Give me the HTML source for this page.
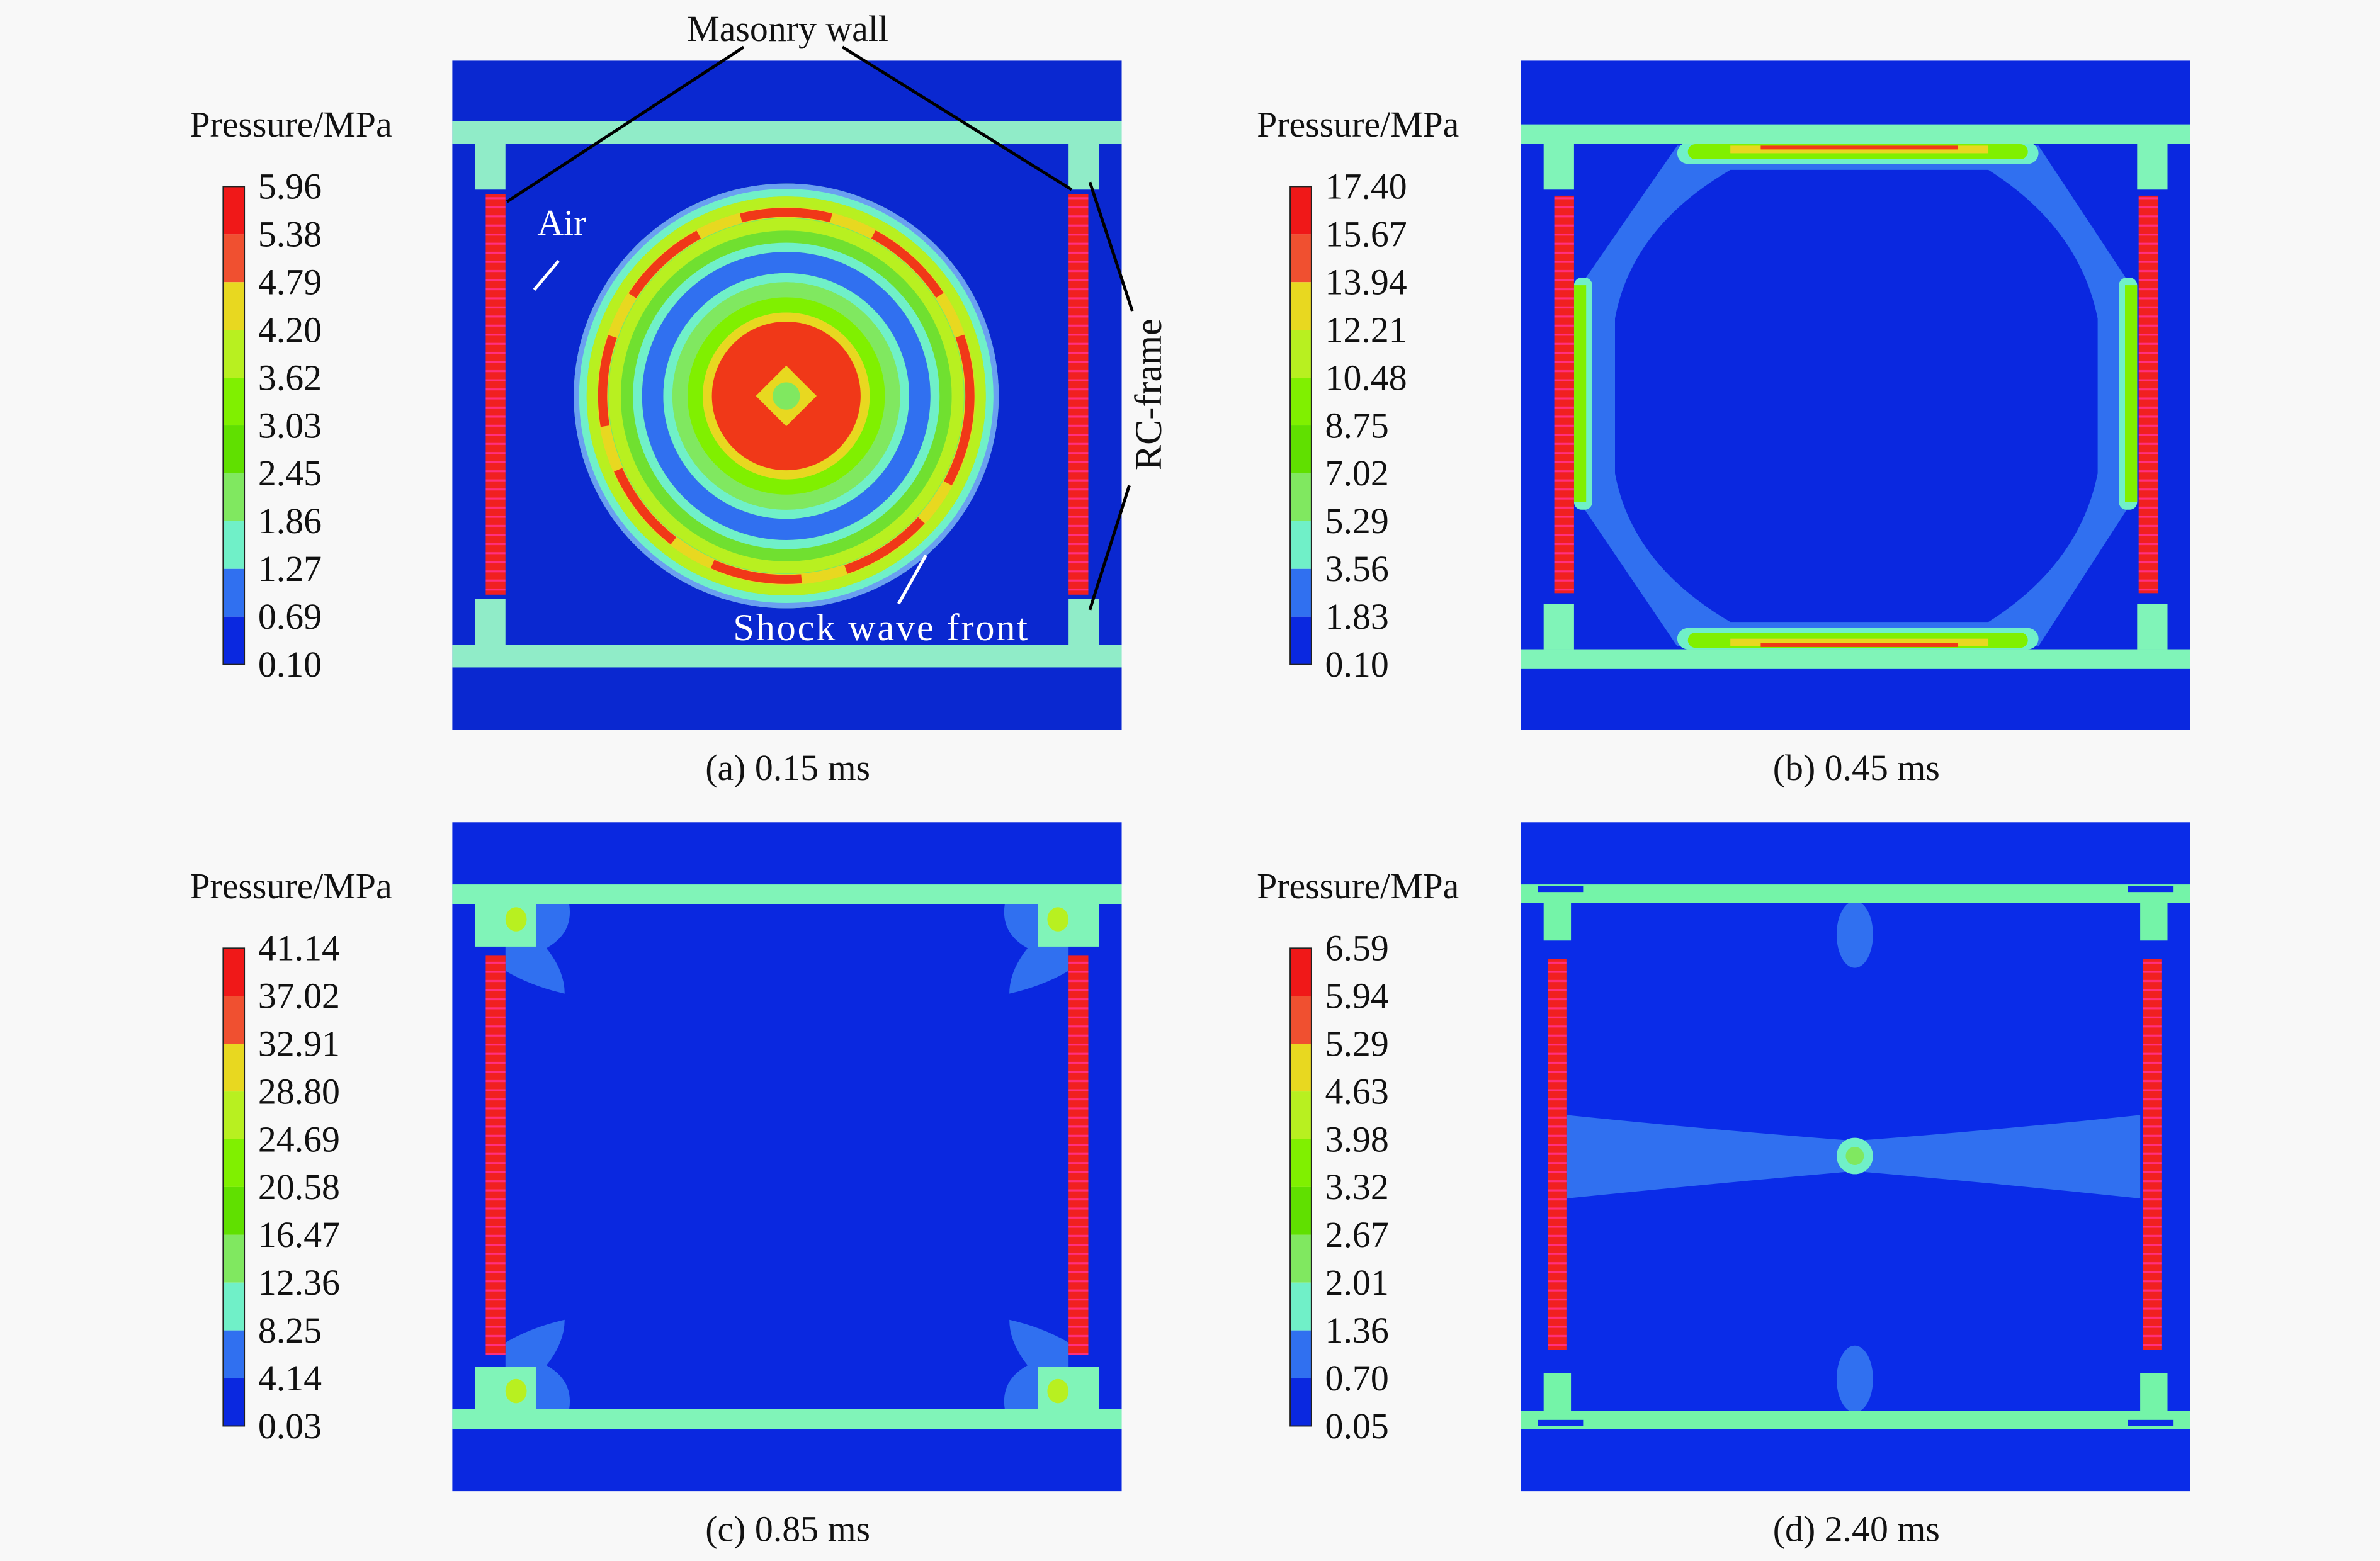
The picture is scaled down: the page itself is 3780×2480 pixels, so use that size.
<!DOCTYPE html>
<html><head><meta charset="utf-8"><style>
html,body{margin:0;padding:0;background:#f8f8f8;}
svg{display:block;}
svg text{font-family:"Liberation Serif","Times New Roman","DejaVu Serif",serif;fill:#111;}
</style></head><body>
<svg width="3780" height="2480" viewBox="0 0 1568 1029" preserveAspectRatio="none" xmlns="http://www.w3.org/2000/svg" font-family="Liberation Serif, serif">
<rect width="1568" height="1029" fill="#f8f8f8"/>
<defs>
<g id="cb">
  <rect x="0" y="0" width="14" height="31.5" fill="#f01818"/>
  <rect x="0" y="31.5" width="14" height="31.5" fill="#f05030"/>
  <rect x="0" y="63" width="14" height="31.5" fill="#e8d820"/>
  <rect x="0" y="94.5" width="14" height="31.5" fill="#b8f020"/>
  <rect x="0" y="126" width="14" height="31.5" fill="#80f000"/>
  <rect x="0" y="157.5" width="14" height="31.5" fill="#60e000"/>
  <rect x="0" y="189" width="14" height="31.5" fill="#80e860"/>
  <rect x="0" y="220.5" width="14" height="31.5" fill="#70f0c8"/>
  <rect x="0" y="252" width="14" height="31.5" fill="#3070f0"/>
  <rect x="0" y="283.5" width="14" height="31.5" fill="#0a28e0"/>
  <rect x="0" y="0" width="14" height="315" fill="none" stroke="#222" stroke-width="0.8"/>
</g>
<pattern id="brick" width="14" height="6" patternUnits="userSpaceOnUse">
  <rect width="14" height="6" fill="#f02020"/>
  <rect y="4" width="14" height="1.3" fill="#ff3080"/>
</pattern>
</defs>

<g font-size="24">
  <text x="125" y="90">Pressure/MPa</text>
  <use href="#cb" x="147" y="123"/>
  <g transform="translate(170,131)">
    <text y="0">5.96</text><text y="31.5">5.38</text><text y="63">4.79</text><text y="94.5">4.20</text><text y="126">3.62</text><text y="157.5">3.03</text><text y="189">2.45</text><text y="220.5">1.86</text><text y="252">1.27</text><text y="283.5">0.69</text><text y="315">0.10</text>
  </g>
  <text x="828" y="90">Pressure/MPa</text>
  <use href="#cb" x="850" y="123"/>
  <g transform="translate(873,131)">
    <text y="0">17.40</text><text y="31.5">15.67</text><text y="63">13.94</text><text y="94.5">12.21</text><text y="126">10.48</text><text y="157.5">8.75</text><text y="189">7.02</text><text y="220.5">5.29</text><text y="252">3.56</text><text y="283.5">1.83</text><text y="315">0.10</text>
  </g>
  <text x="125" y="592">Pressure/MPa</text>
  <use href="#cb" x="147" y="625"/>
  <g transform="translate(170,633)">
    <text y="0">41.14</text><text y="31.5">37.02</text><text y="63">32.91</text><text y="94.5">28.80</text><text y="126">24.69</text><text y="157.5">20.58</text><text y="189">16.47</text><text y="220.5">12.36</text><text y="252">8.25</text><text y="283.5">4.14</text><text y="315">0.03</text>
  </g>
  <text x="828" y="592">Pressure/MPa</text>
  <use href="#cb" x="850" y="625"/>
  <g transform="translate(873,633)">
    <text y="0">6.59</text><text y="31.5">5.94</text><text y="63">5.29</text><text y="94.5">4.63</text><text y="126">3.98</text><text y="157.5">3.32</text><text y="189">2.67</text><text y="220.5">2.01</text><text y="252">1.36</text><text y="283.5">0.70</text><text y="315">0.05</text>
  </g>
  <text x="519" y="514" text-anchor="middle">(a) 0.15 ms</text>
  <text x="1223" y="514" text-anchor="middle">(b) 0.45 ms</text>
  <text x="519" y="1016" text-anchor="middle">(c) 0.85 ms</text>
  <text x="1223" y="1016" text-anchor="middle">(d) 2.40 ms</text>
</g>

<!-- Panel a -->
<g>
  <rect x="298" y="40" width="441" height="441" fill="#0a28d0"/>
  <circle cx="518" cy="261" r="140" fill="#80e860"/>
  <g fill="none">
    <circle cx="518" cy="261" r="138" stroke="#6aa0f0" stroke-width="4"/>
    <circle cx="518" cy="261" r="134" stroke="#70f0c8" stroke-width="5"/>
    <circle cx="518" cy="261" r="128" stroke="#b8f020" stroke-width="7"/>
    <circle cx="518" cy="261" r="121" stroke="#e8d820" stroke-width="7"/>
    <circle cx="518" cy="261" r="121" stroke="#f03818" stroke-width="6" stroke-dasharray="60 30"/>
    <circle cx="518" cy="261" r="113" stroke="#b8f020" stroke-width="8"/>
    <circle cx="518" cy="261" r="105" stroke="#70e030" stroke-width="8"/>
    <circle cx="518" cy="261" r="98" stroke="#70f0c8" stroke-width="6"/>
    <circle cx="518" cy="261" r="88" stroke="#3070f0" stroke-width="14"/>
    <circle cx="518" cy="261" r="78" stroke="#70f0c8" stroke-width="6"/>
    <circle cx="518" cy="261" r="70" stroke="#80e860" stroke-width="10"/>
    <circle cx="518" cy="261" r="60" stroke="#80f000" stroke-width="10"/>
  </g>
  <circle cx="518" cy="261" r="55" fill="#e8d820"/>
  <circle cx="518" cy="261" r="49" fill="#f03818"/>
  <rect x="476" y="219" width="84" height="84" rx="26" fill="#f03818"/>
  <path d="M518 241 L538 261 L518 281 L498 261Z" fill="#e8d820"/>
  <circle cx="518" cy="261" r="9" fill="#80e860"/>
  <rect x="298" y="80" width="441" height="15" fill="#90ecc8"/>
  <rect x="298" y="425" width="441" height="15" fill="#90ecc8"/>
  <rect x="313" y="95" width="20" height="30" fill="#90ecc8"/>
  <rect x="704" y="95" width="20" height="30" fill="#90ecc8"/>
  <rect x="313" y="395" width="20" height="30" fill="#90ecc8"/>
  <rect x="704" y="395" width="20" height="30" fill="#90ecc8"/>
  <rect x="320" y="128" width="13" height="264" fill="url(#brick)"/>
  <rect x="704" y="128" width="13" height="264" fill="url(#brick)"/>
  <text x="519" y="27" font-size="24" text-anchor="middle">Masonry wall</text>
  <line x1="490" y1="31" x2="334" y2="133" stroke="#000" stroke-width="2"/>
  <line x1="555" y1="31" x2="706" y2="125" stroke="#000" stroke-width="2"/>
  <text x="354" y="155" font-size="24" style="fill:#fff">Air</text>
  <line x1="368" y1="172" x2="352" y2="191" stroke="#fff" stroke-width="2"/>
  <text x="483" y="422" font-size="25" textLength="194" style="fill:#fff">Shock wave front</text>
  <line x1="592" y1="398" x2="610" y2="366" stroke="#fff" stroke-width="2"/>
  <text transform="translate(765,260) rotate(-90)" font-size="25" text-anchor="middle">RC-frame</text>
  <line x1="746" y1="205" x2="718" y2="120" stroke="#000" stroke-width="2"/>
  <line x1="744" y1="320" x2="718" y2="402" stroke="#000" stroke-width="2"/>
</g>

<!-- Panel b -->
<g>
  <rect x="1002" y="40" width="441" height="441" fill="#0a28e0"/>
  <path d="M1105 96 L1343 96 L1405 190 L1405 330 L1343 426 L1105 426 L1040 330 L1040 190Z" fill="#3070f0"/>
  <path d="M1140 112 L1310 112 Q1370 150 1382 210 L1382 312 Q1370 372 1310 410 L1140 410 Q1075 372 1064 312 L1064 210 Q1075 150 1140 112Z" fill="#0a28e0"/>
  <rect x="1105" y="94" width="238" height="14" rx="7" fill="#70f0c8"/>
  <rect x="1112" y="95" width="224" height="10" rx="5" fill="#80f000"/>
  <rect x="1140" y="96" width="170" height="5" fill="#e8d820"/>
  <rect x="1160" y="96" width="130" height="2.5" fill="#f03818"/>
  <rect x="1105" y="414" width="238" height="14" rx="7" fill="#70f0c8"/>
  <rect x="1112" y="417" width="224" height="10" rx="5" fill="#80f000"/>
  <rect x="1140" y="421" width="170" height="5" fill="#e8d820"/>
  <rect x="1160" y="424" width="130" height="2.5" fill="#f03818"/>
  <rect x="1037" y="183" width="12" height="153" rx="5" fill="#70f0c8"/>
  <rect x="1037" y="188" width="8" height="143" fill="#80f000"/>
  <rect x="1396" y="183" width="12" height="153" rx="5" fill="#70f0c8"/>
  <rect x="1400" y="188" width="8" height="143" fill="#80f000"/>
  <rect x="1002" y="82" width="441" height="13" fill="#80f4b8"/>
  <rect x="1002" y="428" width="441" height="13" fill="#80f4b8"/>
  <rect x="1017" y="95" width="20" height="30" fill="#80f4b8"/>
  <rect x="1408" y="95" width="20" height="30" fill="#80f4b8"/>
  <rect x="1017" y="398" width="20" height="30" fill="#80f4b8"/>
  <rect x="1408" y="398" width="20" height="30" fill="#80f4b8"/>
  <rect x="1024" y="129" width="13" height="262" fill="url(#brick)"/>
  <rect x="1409" y="129" width="13" height="262" fill="url(#brick)"/>
</g>

<!-- Panel c -->
<g>
  <rect x="298" y="542" width="441" height="441" fill="#0a28e0"/>
  <path d="M333 596 L375 596 Q378 615 360 625 Q372 640 372 655 Q350 650 333 640Z" fill="#3070f0"/>
  <path d="M704 596 L662 596 Q659 615 677 625 Q665 640 665 655 Q687 650 704 640Z" fill="#3070f0"/>
  <path d="M333 929 L375 929 Q378 910 360 900 Q372 885 372 870 Q350 875 333 885Z" fill="#3070f0"/>
  <path d="M704 929 L662 929 Q659 910 677 900 Q665 885 665 870 Q687 875 704 885Z" fill="#3070f0"/>
  <rect x="298" y="583" width="441" height="13" fill="#80f4b8"/>
  <rect x="298" y="929" width="441" height="13" fill="#80f4b8"/>
  <rect x="313" y="596" width="40" height="28" fill="#80f4b8"/>
  <rect x="684" y="596" width="40" height="28" fill="#80f4b8"/>
  <rect x="313" y="901" width="40" height="28" fill="#80f4b8"/>
  <rect x="684" y="901" width="40" height="28" fill="#80f4b8"/>
  <ellipse cx="340" cy="606" rx="7" ry="8" fill="#b8f020"/>
  <ellipse cx="697" cy="606" rx="7" ry="8" fill="#b8f020"/>
  <ellipse cx="340" cy="917" rx="7" ry="8" fill="#b8f020"/>
  <ellipse cx="697" cy="917" rx="7" ry="8" fill="#b8f020"/>
  <rect x="320" y="630" width="13" height="263" fill="url(#brick)"/>
  <rect x="704" y="630" width="13" height="263" fill="url(#brick)"/>
</g>

<!-- Panel d -->
<g>
  <rect x="1002" y="542" width="441" height="441" fill="#0a2ce8"/>
  <path d="M1032 735 Q1130 745 1222 752 Q1315 745 1410 735 L1410 790 Q1315 780 1222 772 Q1130 780 1032 790Z" fill="#3070f0"/>
  <ellipse cx="1222" cy="616" rx="12" ry="22" fill="#3070f0"/>
  <ellipse cx="1222" cy="909" rx="12" ry="22" fill="#3070f0"/>
  <circle cx="1222" cy="762" r="12" fill="#70f0c8"/>
  <circle cx="1222" cy="762" r="6" fill="#80e860"/>
  <rect x="1002" y="583" width="441" height="12" fill="#74f4a8"/>
  <rect x="1002" y="930" width="441" height="12" fill="#74f4a8"/>
  <rect x="1017" y="595" width="18" height="25" fill="#74f4a8"/>
  <rect x="1410" y="595" width="18" height="25" fill="#74f4a8"/>
  <rect x="1017" y="905" width="18" height="25" fill="#74f4a8"/>
  <rect x="1410" y="905" width="18" height="25" fill="#74f4a8"/>
  <rect x="1013" y="584" width="30" height="4" fill="#0a2ce8"/>
  <rect x="1402" y="584" width="30" height="4" fill="#0a2ce8"/>
  <rect x="1013" y="936" width="30" height="4" fill="#0a2ce8"/>
  <rect x="1402" y="936" width="30" height="4" fill="#0a2ce8"/>
  <rect x="1020" y="632" width="12" height="258" fill="url(#brick)"/>
  <rect x="1412" y="632" width="12" height="258" fill="url(#brick)"/>
</g>
</svg>
</body></html>
